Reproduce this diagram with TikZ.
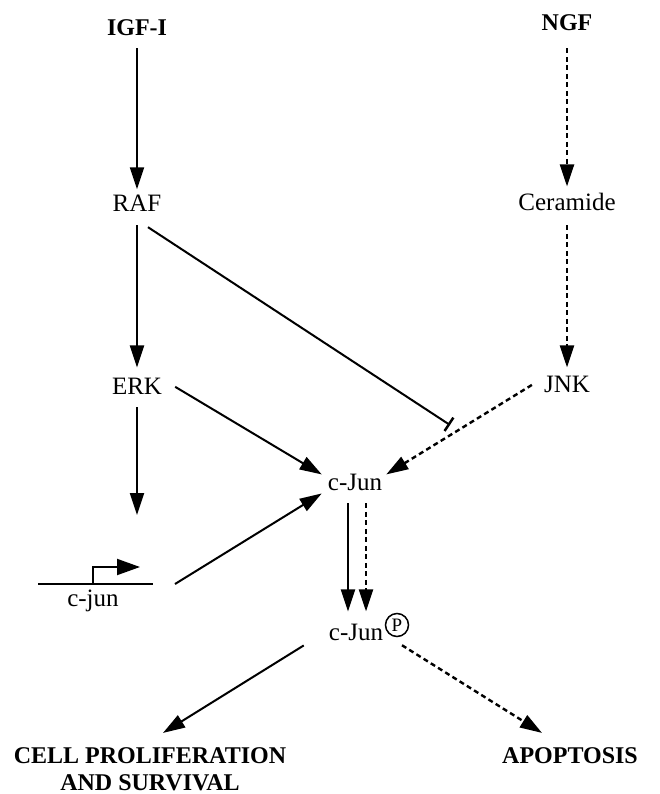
\documentclass[tikz,border=0pt]{standalone}
\usepackage{fontspec}
\setmainfont{Liberation Serif}
\usetikzlibrary{arrows.meta,calc}
\begin{document}
\begin{tikzpicture}[x=1pt,y=-1pt,
  lbl/.style={font=\fontsize{25}{29}\selectfont, inner sep=0pt, anchor=base},
  ttl/.style={font=\bfseries\fontsize{24}{28}\selectfont, inner sep=0pt, anchor=base},
  act/.style={line width=2pt, -{Triangle[length=22pt,width=14pt]}},
  dact/.style={line width=2.4pt, dash pattern=on 5pt off 3.5pt, -{Triangle[length=22pt,width=14pt]}},
  inhib/.style={line width=2pt, -{Bar[width=16pt,line width=2.5pt]}},
]
\useasboundingbox (0,0) rectangle (660,794);

% labels
\node[ttl] (igf) at (137,36) {IGF-I};
\node[ttl] (ngf) at (567,31) {NGF};
\node[lbl] (raf) at (137,212) {RAF};
\node[lbl] (cer) at (567,211) {Ceramide};
\node[lbl] (erk) at (137,394) {ERK};
\node[lbl] (jnk) at (567,392) {JNK};
\node[lbl] (cjun) at (355,490) {c-Jun};
\node[lbl] (cjunp) at (356,640) {c-Jun};
\node[draw, circle, line width=1.5pt, minimum size=23pt, inner sep=0pt,
      font=\fontsize{19}{19}\selectfont] (pcirc) at (397,625) {P};
\node[lbl] (genelbl) at (93,606) {c-jun};
\node[ttl] (cell1) at (150,763) {CELL PROLIFERATION};
\node[ttl] (cell2) at (150,790) {AND SURVIVAL};
\node[ttl] (apo) at (570,763) {APOPTOSIS};

% gene
\coordinate (gL) at (38,584);
\coordinate (gR) at (153,584);
\coordinate (prom) at (93,584);
\draw[line width=2pt] (gL) -- (gR);
\draw[line width=2pt, -{Triangle[length=23pt,width=16pt]}] (prom) -- ++(0,-17) -- ++(47,0);

% left column
\draw[act, shorten <=12pt, shorten >=6pt] (igf.south) -- (raf.north);
\draw[act, shorten <=13pt, shorten >=10pt] (raf.south) -- (erk.north);
\coordinate (erkend) at (137,515);
\draw[act, shorten <=13pt] (erk.south) -- (erkend);

% right column
\draw[dact, shorten <=17pt, shorten >=7pt] (ngf.south) -- (cer.north);
\draw[dact, shorten <=14pt, shorten >=8pt] (cer.south) -- (jnk.north);

% to c-Jun
\draw[dact] ($(jnk.west)+(-12,1)$) -- ($(cjun.north east)+(4,1)$);
\draw[act] ($(erk.east)+(13,1)$) -- ($(cjun.north west)+(-6,1)$);
\draw[act] ($(gR)+(22,0)$) -- ($(cjun.south west)+(-6,3)$);

% inhibition
\coordinate (rafT) at (450,425);
\draw[inhib] ($(raf.south)+(11,15)$) -- (rafT);

% c-Jun to c-Jun P
\draw[act] ($(cjun.south)+(-7,13)$) -- ($(cjunp.north)+(-8,-12)$);
\draw[dact] ($(cjun.south)+(11,13)$) -- ($(cjunp.north)+(10,-12)$);

% outcomes
\draw[act] ($(cjunp.south west)+(-25,5)$) -- ($(cell1.north)+(13,-14)$);
\draw[dact] ($(pcirc.south)+(5,8)$) -- ($(apo.north)+(-28,-14)$);
\end{tikzpicture}
\end{document}
